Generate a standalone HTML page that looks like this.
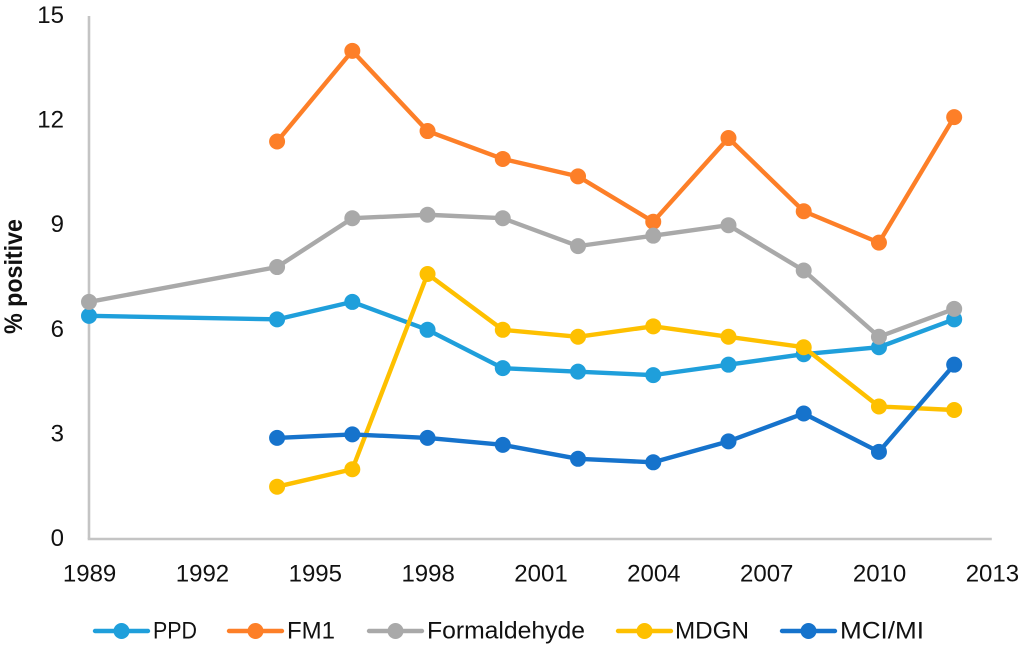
<!DOCTYPE html>
<html lang="en">
<head>
<meta charset="utf-8">
<title>% positive by year</title>
<style>
html,body{margin:0;padding:0;background:#fff;}
svg{display:block;}
text{font-family:"Liberation Sans",sans-serif;fill:#111;}
</style>
</head>
<body>
<svg id="chart" width="1024" height="647" viewBox="0 0 1024 647" xmlns="http://www.w3.org/2000/svg"></svg>
<script>
const years = [1989, 1994, 1996, 1998, 2000, 2002, 2004, 2006, 2008, 2010, 2012];
const xTicks = [1989, 1992, 1995, 1998, 2001, 2004, 2007, 2010, 2013];
const yTicks = [0, 3, 6, 9, 12, 15];
const seriesNames = ["PPD", "FM1", "Formaldehyde", "MDGN", "MCI/MI"];
const ppd = [6.4, 6.3, 6.8, 6.0, 4.9, 4.8, 4.7, 5.0, 5.3, 5.5, 6.3];
const fm1 = [null, 11.4, 14.0, 11.7, 10.9, 10.4, 9.1, 11.5, 9.4, 8.5, 12.1];
const formaldehyde = [6.8, 7.8, 9.2, 9.3, 9.2, 8.4, 8.7, 9.0, 7.7, 5.8, 6.6];
const mdgn = [null, 1.5, 2.0, 7.6, 6.0, 5.8, 6.1, 5.8, 5.5, 3.8, 3.7];
const mciMi = [null, 2.9, 3.0, 2.9, 2.7, 2.3, 2.2, 2.8, 3.6, 2.5, 5.0];
const seriesValues = [ppd, fm1, formaldehyde, mdgn, mciMi];
const seriesColors = ["#1f9fdb", "#fd7f28", "#a9a9a9", "#fec000", "#1673cc"];

const svg = document.getElementById('chart');
const NS = 'http://www.w3.org/2000/svg';
const x = v => 89 + (v - 1989) * (991.8 - 89) / (2013 - 1989);
const y = v => 539 - v * (539 - 16) / 15;

function make(tag, attrs, text) {
  const el = document.createElementNS(NS, tag);
  for (const k in attrs) el.setAttribute(k, attrs[k]);
  if (text !== undefined) el.textContent = text;
  svg.appendChild(el);
  return el;
}

const yAxis = make('line', {x1: x(1989), x2: x(1989), y1: y(15), y2: y(0), stroke: '#c4c4c4', 'stroke-width': 2.6});


const xAxis = make('line', {x1: x(1989) - 1.3, x2: x(2013), y1: y(0), y2: y(0), stroke: '#c4c4c4', 'stroke-width': 2.6});



yTicks.forEach(t => {
  const el = make('text', {x: 64, y: y(t) + 7, 'text-anchor': 'end', 'font-size': 24}, String(t));
  
  
});
xTicks.forEach(t => {
  const el = make('text', {x: x(t) + 0.6, y: 581.5, 'text-anchor': 'middle', 'font-size': 24}, String(t));
  
  
});

const yTitle = make('text', {transform: 'translate(22,334) rotate(-90)', 'font-size': 25, 'font-weight': 'bold', textLength: 115, lengthAdjust: 'spacingAndGlyphs'}, '% positive');



seriesValues.forEach((vals, s) => {
  const pts = [];
  vals.forEach((v, i) => { if (v !== null) pts.push([x(years[i]), y(v)]); });
  const line = make('polyline', {points: pts.map(p => p.join(',')).join(' '), fill: 'none', stroke: seriesColors[s], 'stroke-width': 4.4, 'stroke-linejoin': 'round', 'stroke-linecap': 'round'});
  
  
  pts.forEach(p => {
    const dot = make('circle', {cx: p[0], cy: p[1], r: 8, fill: seriesColors[s]});
    
    
  });
});

const legendLineStart = [94, 228, 368, 617, 781];
const legendTextStart = [153, 287, 427, 675, 840];
const legendTextWidth = [44, 48, 158, 74, 84];
seriesNames.forEach((name, s) => {
  const x0 = legendLineStart[s];
  const l = make('line', {x1: x0 + 1, x2: x0 + 54, y1: 631, y2: 631, stroke: seriesColors[s], 'stroke-width': 4.4, 'stroke-linecap': 'round'});
  
  
  const c = make('circle', {cx: x0 + 27.5, cy: 631, r: 8, fill: seriesColors[s]});
  
  
  const t = make('text', {x: legendTextStart[s], y: 638.5, 'font-size': 24, textLength: legendTextWidth[s], lengthAdjust: 'spacingAndGlyphs'}, name);
  
  
});
</script>
</body>
</html>
